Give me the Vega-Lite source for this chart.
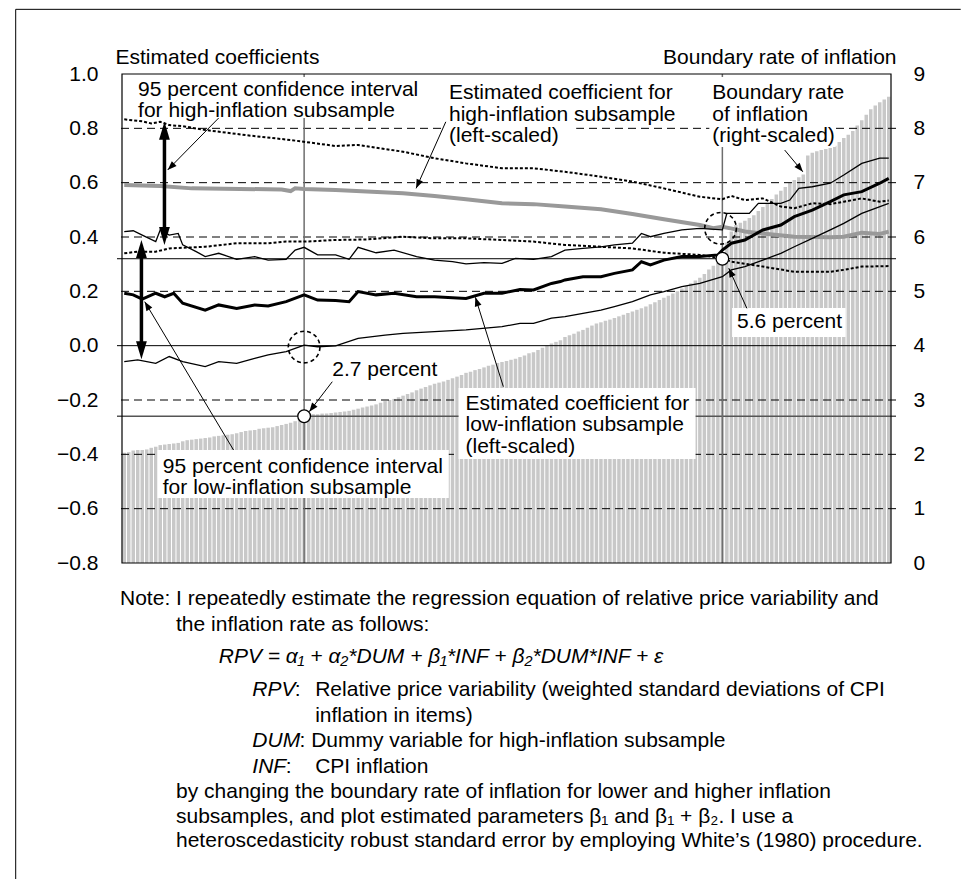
{
"$schema":"https://vega.github.io/schema/vega-lite/v6.json",
"width":779,"height":489,"autosize":"none",
"padding":{"left":117,"top":74,"right":68,"bottom":316},
"background":"#ffffff",
"config":{"view":{"stroke":null},"axisX":{"disable":true},"text":{"font":"Liberation Sans","fontSize":21,"color":"#000"}},
"datasets":{
"bars":[
{"i":0,"r":2.03},{"i":1,"r":2.04},{"i":2,"r":2.07},{"i":3,"r":2.08},{"i":4,"r":2.08},{"i":5,"r":2.09},{"i":6,"r":2.12},
{"i":7,"r":2.14},{"i":8,"r":2.17},{"i":9,"r":2.18},{"i":10,"r":2.19},{"i":11,"r":2.2},{"i":12,"r":2.21},{"i":13,"r":2.24},
{"i":14,"r":2.26},{"i":15,"r":2.27},{"i":16,"r":2.28},{"i":17,"r":2.29},{"i":18,"r":2.3},{"i":19,"r":2.31},{"i":20,"r":2.33},
{"i":21,"r":2.34},{"i":22,"r":2.35},{"i":23,"r":2.36},{"i":24,"r":2.37},{"i":25,"r":2.39},{"i":26,"r":2.41},{"i":27,"r":2.43},
{"i":28,"r":2.44},{"i":29,"r":2.45},{"i":30,"r":2.47},{"i":31,"r":2.48},{"i":32,"r":2.49},{"i":33,"r":2.5},{"i":34,"r":2.52},
{"i":35,"r":2.54},{"i":36,"r":2.56},{"i":37,"r":2.58},{"i":38,"r":2.61},{"i":39,"r":2.65},{"i":40,"r":2.7},{"i":41,"r":2.73},
{"i":42,"r":2.74},{"i":43,"r":2.74},{"i":44,"r":2.75},{"i":45,"r":2.75},{"i":46,"r":2.76},{"i":47,"r":2.77},{"i":48,"r":2.78},
{"i":49,"r":2.79},{"i":50,"r":2.8},{"i":51,"r":2.82},{"i":52,"r":2.84},{"i":53,"r":2.86},{"i":54,"r":2.88},{"i":55,"r":2.9},
{"i":56,"r":2.92},{"i":57,"r":2.95},{"i":58,"r":2.98},{"i":59,"r":3.0},{"i":60,"r":3.02},{"i":61,"r":3.05},{"i":62,"r":3.08},
{"i":63,"r":3.11},{"i":64,"r":3.14},{"i":65,"r":3.18},{"i":66,"r":3.21},{"i":67,"r":3.24},{"i":68,"r":3.27},{"i":69,"r":3.3},
{"i":70,"r":3.32},{"i":71,"r":3.34},{"i":72,"r":3.37},{"i":73,"r":3.4},{"i":74,"r":3.43},{"i":75,"r":3.46},{"i":76,"r":3.5},
{"i":77,"r":3.52},{"i":78,"r":3.55},{"i":79,"r":3.57},{"i":80,"r":3.6},{"i":81,"r":3.63},{"i":82,"r":3.65},{"i":83,"r":3.68},
{"i":84,"r":3.7},{"i":85,"r":3.72},{"i":86,"r":3.74},{"i":87,"r":3.76},{"i":88,"r":3.79},{"i":89,"r":3.82},{"i":90,"r":3.86},
{"i":91,"r":3.88},{"i":92,"r":3.92},{"i":93,"r":3.96},{"i":94,"r":4.0},{"i":95,"r":4.04},{"i":96,"r":4.07},{"i":97,"r":4.1},
{"i":98,"r":4.16},{"i":99,"r":4.19},{"i":100,"r":4.22},{"i":101,"r":4.26},{"i":102,"r":4.29},{"i":103,"r":4.33},{"i":104,"r":4.37},
{"i":105,"r":4.41},{"i":106,"r":4.43},{"i":107,"r":4.46},{"i":108,"r":4.48},{"i":109,"r":4.51},{"i":110,"r":4.54},{"i":111,"r":4.57},
{"i":112,"r":4.6},{"i":113,"r":4.63},{"i":114,"r":4.66},{"i":115,"r":4.69},{"i":116,"r":4.72},{"i":117,"r":4.76},{"i":118,"r":4.8},
{"i":119,"r":4.84},{"i":120,"r":4.88},{"i":121,"r":4.92},{"i":122,"r":4.96},{"i":123,"r":5.0},{"i":124,"r":5.05},{"i":125,"r":5.1},
{"i":126,"r":5.15},{"i":127,"r":5.2},{"i":128,"r":5.25},{"i":129,"r":5.32},{"i":130,"r":5.4},{"i":131,"r":5.47},{"i":132,"r":5.53},
{"i":133,"r":5.6},
{"i":134,"r":5.9},{"i":135,"r":6.1},{"i":136,"r":6.22},{"i":137,"r":6.26},{"i":138,"r":6.3},{"i":139,"r":6.35},{"i":140,"r":6.4},
{"i":141,"r":6.48},{"i":142,"r":6.55},{"i":143,"r":6.62},{"i":144,"r":6.7},{"i":145,"r":6.78},{"i":146,"r":6.85},{"i":147,"r":6.92},
{"i":148,"r":7.0},{"i":149,"r":7.05},{"i":150,"r":7.1},{"i":151,"r":7.15},{"i":152,"r":7.5},{"i":153,"r":7.55},{"i":154,"r":7.58},
{"i":155,"r":7.6},{"i":156,"r":7.62},{"i":157,"r":7.64},{"i":158,"r":7.68},{"i":159,"r":7.75},{"i":160,"r":7.82},{"i":161,"r":7.88},
{"i":162,"r":7.95},{"i":163,"r":8.05},{"i":164,"r":8.15},{"i":165,"r":8.25},{"i":166,"r":8.35},{"i":167,"r":8.42},{"i":168,"r":8.48},
{"i":169,"r":8.53},{"i":170,"r":8.58}
],
"coef":[
{"s":"HU","i":0,"v":0.833},{"s":"HU","i":4,"v":0.826},{"s":"HU","i":6,"v":0.818},{"s":"HU","i":8,"v":0.824},{"s":"HU","i":10,"v":0.812},{"s":"HU","i":13,"v":0.808},{"s":"HU","i":18,"v":0.794},{"s":"HU","i":27,"v":0.775},{"s":"HU","i":37,"v":0.757},{"s":"HU","i":47,"v":0.735},{"s":"HU","i":52,"v":0.739},{"s":"HU","i":62,"v":0.714},{"s":"HU","i":69,"v":0.69},{"s":"HU","i":76,"v":0.671},{"s":"HU","i":84,"v":0.653},{"s":"HU","i":91,"v":0.653},{"s":"HU","i":98,"v":0.64},{"s":"HU","i":106,"v":0.622},{"s":"HU","i":113,"v":0.604},{"s":"HU","i":120,"v":0.579},{"s":"HU","i":128,"v":0.548},{"s":"HU","i":133,"v":0.539},{"s":"HU","i":135,"v":0.551},{"s":"HU","i":138,"v":0.536},{"s":"HU","i":142,"v":0.542},{"s":"HU","i":146,"v":0.512},{"s":"HU","i":149,"v":0.506},{"s":"HU","i":153,"v":0.524},{"s":"HU","i":157,"v":0.521},{"s":"HU","i":160,"v":0.53},{"s":"HU","i":164,"v":0.542},{"s":"HU","i":168,"v":0.53},{"s":"HU","i":170,"v":0.534},
{"s":"HC","i":0,"v":0.591},{"s":"HC","i":8,"v":0.588},{"s":"HC","i":15,"v":0.579},{"s":"HC","i":35,"v":0.575},{"s":"HC","i":37,"v":0.569},{"s":"HC","i":38,"v":0.579},{"s":"HC","i":40,"v":0.577},{"s":"HC","i":47,"v":0.573},{"s":"HC","i":62,"v":0.561},{"s":"HC","i":69,"v":0.551},{"s":"HC","i":76,"v":0.539},{"s":"HC","i":84,"v":0.524},{"s":"HC","i":91,"v":0.521},{"s":"HC","i":98,"v":0.512},{"s":"HC","i":106,"v":0.502},{"s":"HC","i":113,"v":0.485},{"s":"HC","i":120,"v":0.465},{"s":"HC","i":128,"v":0.444},{"s":"HC","i":131,"v":0.432},{"s":"HC","i":133,"v":0.438},{"s":"HC","i":136,"v":0.428},{"s":"HC","i":138,"v":0.42},{"s":"HC","i":142,"v":0.413},{"s":"HC","i":149,"v":0.401},{"s":"HC","i":157,"v":0.399},{"s":"HC","i":160,"v":0.401},{"s":"HC","i":164,"v":0.416},{"s":"HC","i":168,"v":0.411},{"s":"HC","i":170,"v":0.42},
{"s":"LU","i":0,"v":0.42},{"s":"LU","i":2,"v":0.423},{"s":"LU","i":4,"v":0.407},{"s":"LU","i":7,"v":0.383},{"s":"LU","i":8,"v":0.426},{"s":"LU","i":10,"v":0.407},{"s":"LU","i":12,"v":0.413},{"s":"LU","i":13,"v":0.371},{"s":"LU","i":16,"v":0.346},{"s":"LU","i":18,"v":0.328},{"s":"LU","i":21,"v":0.34},{"s":"LU","i":25,"v":0.318},{"s":"LU","i":29,"v":0.328},{"s":"LU","i":32,"v":0.315},{"s":"LU","i":36,"v":0.318},{"s":"LU","i":38,"v":0.352},{"s":"LU","i":40,"v":0.362},{"s":"LU","i":43,"v":0.334},{"s":"LU","i":47,"v":0.334},{"s":"LU","i":50,"v":0.318},{"s":"LU","i":52,"v":0.362},{"s":"LU","i":56,"v":0.342},{"s":"LU","i":60,"v":0.352},{"s":"LU","i":65,"v":0.328},{"s":"LU","i":69,"v":0.315},{"s":"LU","i":73,"v":0.309},{"s":"LU","i":76,"v":0.301},{"s":"LU","i":80,"v":0.306},{"s":"LU","i":84,"v":0.303},{"s":"LU","i":87,"v":0.321},{"s":"LU","i":91,"v":0.318},{"s":"LU","i":95,"v":0.328},{"s":"LU","i":98,"v":0.352},{"s":"LU","i":102,"v":0.358},{"s":"LU","i":106,"v":0.364},{"s":"LU","i":109,"v":0.371},{"s":"LU","i":113,"v":0.377},{"s":"LU","i":115,"v":0.413},{"s":"LU","i":117,"v":0.401},{"s":"LU","i":120,"v":0.413},{"s":"LU","i":124,"v":0.426},{"s":"LU","i":128,"v":0.432},{"s":"LU","i":133,"v":0.426},{"s":"LU","i":134,"v":0.487},{"s":"LU","i":139,"v":0.487},{"s":"LU","i":141,"v":0.524},{"s":"LU","i":146,"v":0.524},{"s":"LU","i":148,"v":0.536},{"s":"LU","i":150,"v":0.579},{"s":"LU","i":153,"v":0.585},{"s":"LU","i":157,"v":0.598},{"s":"LU","i":160,"v":0.628},{"s":"LU","i":164,"v":0.671},{"s":"LU","i":168,"v":0.69},{"s":"LU","i":170,"v":0.69},
{"s":"HL","i":0,"v":0.34},{"s":"HL","i":3,"v":0.346},{"s":"HL","i":7,"v":0.346},{"s":"HL","i":10,"v":0.358},{"s":"HL","i":18,"v":0.364},{"s":"HL","i":25,"v":0.377},{"s":"HL","i":32,"v":0.377},{"s":"HL","i":36,"v":0.383},{"s":"HL","i":40,"v":0.383},{"s":"HL","i":47,"v":0.389},{"s":"HL","i":54,"v":0.391},{"s":"HL","i":62,"v":0.401},{"s":"HL","i":69,"v":0.395},{"s":"HL","i":76,"v":0.395},{"s":"HL","i":84,"v":0.389},{"s":"HL","i":91,"v":0.383},{"s":"HL","i":98,"v":0.371},{"s":"HL","i":106,"v":0.364},{"s":"HL","i":113,"v":0.358},{"s":"HL","i":120,"v":0.342},{"s":"HL","i":128,"v":0.334},{"s":"HL","i":133,"v":0.321},{"s":"HL","i":135,"v":0.309},{"s":"HL","i":142,"v":0.291},{"s":"HL","i":149,"v":0.272},{"s":"HL","i":157,"v":0.272},{"s":"HL","i":160,"v":0.279},{"s":"HL","i":164,"v":0.291},{"s":"HL","i":170,"v":0.293},
{"s":"LC","i":0,"v":0.193},{"s":"LC","i":2,"v":0.187},{"s":"LC","i":4,"v":0.171},{"s":"LC","i":7,"v":0.193},{"s":"LC","i":9,"v":0.18},{"s":"LC","i":11,"v":0.193},{"s":"LC","i":13,"v":0.156},{"s":"LC","i":18,"v":0.131},{"s":"LC","i":21,"v":0.15},{"s":"LC","i":25,"v":0.137},{"s":"LC","i":29,"v":0.15},{"s":"LC","i":32,"v":0.146},{"s":"LC","i":36,"v":0.162},{"s":"LC","i":40,"v":0.187},{"s":"LC","i":43,"v":0.168},{"s":"LC","i":47,"v":0.166},{"s":"LC","i":50,"v":0.162},{"s":"LC","i":52,"v":0.199},{"s":"LC","i":56,"v":0.187},{"s":"LC","i":60,"v":0.193},{"s":"LC","i":65,"v":0.18},{"s":"LC","i":69,"v":0.18},{"s":"LC","i":76,"v":0.174},{"s":"LC","i":80,"v":0.193},{"s":"LC","i":84,"v":0.193},{"s":"LC","i":88,"v":0.207},{"s":"LC","i":91,"v":0.205},{"s":"LC","i":95,"v":0.229},{"s":"LC","i":97,"v":0.236},{"s":"LC","i":98,"v":0.242},{"s":"LC","i":102,"v":0.254},{"s":"LC","i":106,"v":0.254},{"s":"LC","i":109,"v":0.266},{"s":"LC","i":113,"v":0.279},{"s":"LC","i":115,"v":0.309},{"s":"LC","i":117,"v":0.297},{"s":"LC","i":120,"v":0.315},{"s":"LC","i":124,"v":0.328},{"s":"LC","i":128,"v":0.328},{"s":"LC","i":132,"v":0.334},{"s":"LC","i":133,"v":0.352},{"s":"LC","i":135,"v":0.377},{"s":"LC","i":138,"v":0.389},{"s":"LC","i":142,"v":0.426},{"s":"LC","i":146,"v":0.444},{"s":"LC","i":149,"v":0.475},{"s":"LC","i":153,"v":0.499},{"s":"LC","i":157,"v":0.53},{"s":"LC","i":160,"v":0.555},{"s":"LC","i":164,"v":0.567},{"s":"LC","i":168,"v":0.598},{"s":"LC","i":170,"v":0.616},
{"s":"LL","i":0,"v":-0.059},{"s":"LL","i":3,"v":-0.052},{"s":"LL","i":7,"v":-0.065},{"s":"LL","i":10,"v":-0.04},{"s":"LL","i":13,"v":-0.059},{"s":"LL","i":18,"v":-0.077},{"s":"LL","i":21,"v":-0.059},{"s":"LL","i":25,"v":-0.065},{"s":"LL","i":29,"v":-0.047},{"s":"LL","i":32,"v":-0.034},{"s":"LL","i":36,"v":-0.022},{"s":"LL","i":38,"v":-0.01},{"s":"LL","i":40,"v":0.002},{"s":"LL","i":43,"v":-0.004},{"s":"LL","i":47,"v":-0.001},{"s":"LL","i":52,"v":0.027},{"s":"LL","i":58,"v":0.039},{"s":"LL","i":62,"v":0.045},{"s":"LL","i":69,"v":0.052},{"s":"LL","i":76,"v":0.058},{"s":"LL","i":84,"v":0.07},{"s":"LL","i":88,"v":0.082},{"s":"LL","i":91,"v":0.082},{"s":"LL","i":95,"v":0.101},{"s":"LL","i":98,"v":0.107},{"s":"LL","i":102,"v":0.119},{"s":"LL","i":106,"v":0.131},{"s":"LL","i":109,"v":0.144},{"s":"LL","i":113,"v":0.162},{"s":"LL","i":117,"v":0.187},{"s":"LL","i":120,"v":0.199},{"s":"LL","i":124,"v":0.217},{"s":"LL","i":128,"v":0.229},{"s":"LL","i":133,"v":0.254},{"s":"LL","i":135,"v":0.279},{"s":"LL","i":138,"v":0.291},{"s":"LL","i":142,"v":0.315},{"s":"LL","i":146,"v":0.34},{"s":"LL","i":149,"v":0.364},{"s":"LL","i":153,"v":0.395},{"s":"LL","i":157,"v":0.426},{"s":"LL","i":160,"v":0.45},{"s":"LL","i":164,"v":0.487},{"s":"LL","i":170,"v":0.524}
],
"grid":[{"g":0.8},{"g":0.6},{"g":0.4},{"g":0.2},{"g":-0.2},{"g":-0.4},{"g":-0.6}],
"boxes":[
{"x1":1.91,"x2":67.11,"y1":0.989,"y2":0.838},
{"x1":71.5,"x2":100.5,"y1":0.816,"y2":0.728},
{"x1":130.1,"x2":158.2,"y1":0.989,"y2":0.731},
{"x1":135.16,"x2":160.4,"y1":0.139,"y2":0.032},
{"x1":45.6,"x2":69.96,"y1":-0.045,"y2":-0.13},
{"x1":74.35,"x2":127.04,"y1":-0.156,"y2":-0.417},
{"x1":7.4,"x2":72.16,"y1":-0.384,"y2":-0.561}
],
"ann":[
{"i":3.08,"v":0.919,"t":["95 percent confidence interval","for high-inflation subsample"]},
{"i":72.22,"v":0.907,"t":["Estimated coefficient for","high-inflation subsample","(left-scaled)"]},
{"i":130.77,"v":0.907,"t":["Boundary rate","of inflation","(right-scaled)"]},
{"i":136.26,"v":0.064,"t":["5.6 percent"]},
{"i":46.26,"v":-0.112,"t":["2.7 percent"]},
{"i":75.89,"v":-0.237,"t":["Estimated coefficient for","low-inflation subsample","(left-scaled)"]},
{"i":8.57,"v":-0.468,"t":["95 percent confidence interval","for low-inflation subsample"]}
],
"note":[
{"i":-0.94,"v":-0.9546,"t":"Note: I repeatedly estimate the regression equation of relative price variability and"},
{"i":11.51,"v":-1.0492,"t":"the inflation rate as follows:"},
{"i":37.91,"v":-1.2895,"t":":"},
{"i":42.46,"v":-1.2895,"t":"Relative price variability (weighted standard deviations of CPI"},
{"i":42.46,"v":-1.3842,"t":"inflation in items)"},
{"i":38.97,"v":-1.4762,"t":": Dummy variable for high-inflation subsample"},
{"i":35.9,"v":-1.5719,"t":":"},
{"i":42.46,"v":-1.5719,"t":"CPI inflation"},
{"i":11.51,"v":-1.665,"t":"by changing the boundary rate of inflation for lower and higher inflation"},
{"i":11.51,"v":-1.7559,"t":"subsamples, and plot estimated parameters β₁ and β₁ + β₂. I use a"},
{"i":11.51,"v":-1.8443,"t":"heteroscedasticity robust standard error by employing White’s (1980) procedure."}
],
"noteit":[
{"i":21.01,"v":-1.1681,"t":"RPV = α₁ + α₂*DUM + β₁*INF + β₂*DUM*INF + ε"},
{"i":28.48,"v":-1.2895,"t":"RPV"},
{"i":28.48,"v":-1.4762,"t":"DUM"},
{"i":28.48,"v":-1.5719,"t":"INF"}
],
"darr":[{"i":8.94,"s1":0.795,"s2":0.4},{"i":3.82,"s1":0.36,"s2":-0.021}],
"dheads":[{"i":8.94,"v":0.8245,"a":0},{"i":8.94,"v":0.3706,"a":180},{"i":3.82,"v":0.389,"a":0},{"i":3.82,"v":-0.05,"a":180}],
"leaders":[
{"x1":21.0,"y1":0.838,"x2":9.66,"y2":0.647,"a":-134},
{"x1":71.5,"y1":0.824,"x2":64.9,"y2":0.579,"a":-156},
{"x1":146.86,"y1":0.72,"x2":150.9,"y2":0.64,"a":140},
{"x1":138.45,"y1":0.1375,"x2":134.43,"y2":0.285,"a":-25},
{"x1":46.26,"y1":-0.1326,"x2":41.14,"y2":-0.243,"a":-142},
{"x1":84.3,"y1":-0.151,"x2":78.08,"y2":0.178,"a":-18},
{"x1":24.3,"y1":-0.384,"x2":4.55,"y2":0.162,"a":-31}
],
"dcirc":[{"i":40,"v":-0.005},{"i":132.6,"v":0.432}],
"opts":[{"i":40,"v":-0.26},{"i":133,"v":0.32}]
},
"layer":[
{"data":{"name":"bars"},
 "mark":{"type":"bar","orient":"vertical","width":3.5,"color":"#c8c8c8"},
 "encoding":{
  "x":{"field":"i","type":"quantitative","scale":{"domain":[-0.5,170.5],"nice":false,"zero":false},"axis":null},
  "y":{"field":"r","type":"quantitative","scale":{"domain":[0,9],"nice":false},
   "axis":{"orient":"right","values":[0,1,2,3,4,5,6,7,8,9],"format":"d","domain":false,"ticks":false,"tickSize":0,"grid":false,"labelPadding":17,"labelFont":"Liberation Sans","labelFontSize":21,"labelColor":"#000","labelBaseline":"middle","labelOverlap":false,"labelFlush":false,"title":"Boundary rate of inflation","titleAngle":0,"titleAlign":"right","titleBaseline":"alphabetic","titleX":0,"titleY":-11,"titleFont":"Liberation Sans","titleFontSize":21,"titleFontWeight":"normal","titleColor":"#000"}}}},
 {"data":{"name":"grid"},
  "mark":{"type":"rule","color":"#000","strokeWidth":1,"strokeDash":[8,5]},
  "encoding":{"y":{"field":"g","type":"quantitative","scale":{"domain":[-0.8,1.0],"nice":false,"zero":false},
   "axis":{"orient":"left","values":[-0.8,-0.6,-0.4,-0.2,0,0.2,0.4,0.6,0.8,1],"format":".1f","domain":false,"ticks":false,"tickSize":0,"grid":false,"labelPadding":19,"labelFont":"Liberation Sans","labelFontSize":21,"labelColor":"#000","labelBaseline":"middle","labelOverlap":false,"labelFlush":false,"title":"Estimated coefficients","titleAngle":0,"titleAlign":"left","titleBaseline":"alphabetic","titleX":-2,"titleY":-11,"titleFont":"Liberation Sans","titleFontSize":21,"titleFontWeight":"normal","titleColor":"#000"}}}},
 {"data":{"values":[{}]},"mark":{"type":"rule","color":"#000","strokeWidth":1},
  "encoding":{"y":{"datum":0,"type":"quantitative","scale":{"domain":[-0.8,1.0],"nice":false,"zero":false},"axis":null}}},
 {"data":{"values":[{}]},"mark":{"type":"rule","color":"#555555","strokeWidth":1.5},
  "encoding":{"y":{"datum":-0.26,"type":"quantitative","scale":{"domain":[-0.8,1.0],"nice":false,"zero":false},"axis":null}}},
 {"data":{"values":[{}]},"mark":{"type":"rule","color":"#000","strokeWidth":1},
  "encoding":{"y":{"datum":0.32,"type":"quantitative","scale":{"domain":[-0.8,1.0],"nice":false,"zero":false},"axis":null}}},
 {"data":{"values":[{}]},"mark":{"type":"rule","color":"#6e6e6e","strokeWidth":1.5},
  "encoding":{"x":{"datum":40,"type":"quantitative","scale":{"domain":[-0.5,170.5],"nice":false,"zero":false},"axis":null}}},
 {"data":{"values":[{}]},"mark":{"type":"rule","color":"#6e6e6e","strokeWidth":1.5},
  "encoding":{"x":{"datum":133,"type":"quantitative","scale":{"domain":[-0.5,170.5],"nice":false,"zero":false},"axis":null}}},
 {"data":{"name":"boxes"},"mark":{"type":"rect","color":"#ffffff"},
  "encoding":{
   "x":{"field":"x1","type":"quantitative","scale":{"domain":[-0.5,170.5],"nice":false,"zero":false},"axis":null},"x2":{"field":"x2"},
   "y":{"field":"y1","type":"quantitative","scale":{"domain":[-0.8,1.0],"nice":false,"zero":false},"axis":null},"y2":{"field":"y2"}}},
 {"data":{"name":"ann"},"mark":{"type":"text","align":"left","baseline":"alphabetic","lineHeight":21.3,"font":"Liberation Sans","fontSize":21,"color":"#000"},
  "encoding":{
   "x":{"field":"i","type":"quantitative","scale":{"domain":[-0.5,170.5],"nice":false,"zero":false},"axis":null},
   "y":{"field":"v","type":"quantitative","scale":{"domain":[-0.8,1.0],"nice":false,"zero":false},"axis":null},
   "text":{"field":"t"}}},
 {"data":{"name":"note"},"mark":{"type":"text","align":"left","baseline":"alphabetic","font":"Liberation Sans","fontSize":21,"color":"#000"},
  "encoding":{
   "x":{"field":"i","type":"quantitative","scale":{"domain":[-0.5,170.5],"nice":false,"zero":false},"axis":null},
   "y":{"field":"v","type":"quantitative","scale":{"domain":[-0.8,1.0],"nice":false,"zero":false},"axis":null},
   "text":{"field":"t"}}},
 {"data":{"name":"noteit"},"mark":{"type":"text","align":"left","baseline":"alphabetic","font":"Liberation Sans","fontSize":21,"fontStyle":"italic","color":"#000"},
  "encoding":{
   "x":{"field":"i","type":"quantitative","scale":{"domain":[-0.5,170.5],"nice":false,"zero":false},"axis":null},
   "y":{"field":"v","type":"quantitative","scale":{"domain":[-0.8,1.0],"nice":false,"zero":false},"axis":null},
   "text":{"field":"t"}}},
 {"data":{"name":"coef"},"transform":[{"filter":"datum.s == 'HC'"}],
  "mark":{"type":"line","color":"#999999","strokeWidth":4},
  "encoding":{
   "x":{"field":"i","type":"quantitative","scale":{"domain":[-0.5,170.5],"nice":false,"zero":false},"axis":null},
   "y":{"field":"v","type":"quantitative","scale":{"domain":[-0.8,1.0],"nice":false,"zero":false},"axis":null}}},
 {"data":{"name":"coef"},"transform":[{"filter":"datum.s == 'HU' || datum.s == 'HL'"}],
  "mark":{"type":"line","color":"#000","strokeWidth":2,"strokeDash":[3,2]},
  "encoding":{
   "x":{"field":"i","type":"quantitative","scale":{"domain":[-0.5,170.5],"nice":false,"zero":false},"axis":null},
   "y":{"field":"v","type":"quantitative","scale":{"domain":[-0.8,1.0],"nice":false,"zero":false},"axis":null},
   "detail":{"field":"s"}}},
 {"data":{"name":"coef"},"transform":[{"filter":"datum.s == 'LU' || datum.s == 'LL'"}],
  "mark":{"type":"line","color":"#000","strokeWidth":1.3},
  "encoding":{
   "x":{"field":"i","type":"quantitative","scale":{"domain":[-0.5,170.5],"nice":false,"zero":false},"axis":null},
   "y":{"field":"v","type":"quantitative","scale":{"domain":[-0.8,1.0],"nice":false,"zero":false},"axis":null},
   "detail":{"field":"s"}}},
 {"data":{"name":"coef"},"transform":[{"filter":"datum.s == 'LC'"}],
  "mark":{"type":"line","color":"#000","strokeWidth":3},
  "encoding":{
   "x":{"field":"i","type":"quantitative","scale":{"domain":[-0.5,170.5],"nice":false,"zero":false},"axis":null},
   "y":{"field":"v","type":"quantitative","scale":{"domain":[-0.8,1.0],"nice":false,"zero":false},"axis":null}}},
 {"data":{"name":"darr"},"mark":{"type":"rule","color":"#000","strokeWidth":3.5},
  "encoding":{
   "x":{"field":"i","type":"quantitative","scale":{"domain":[-0.5,170.5],"nice":false,"zero":false},"axis":null},
   "y":{"field":"s1","type":"quantitative","scale":{"domain":[-0.8,1.0],"nice":false,"zero":false},"axis":null},"y2":{"field":"s2"}}},
 {"data":{"name":"dheads"},"mark":{"type":"point","shape":"M0,0L0.3,1L-0.3,1Z","size":1296,"filled":true,"color":"#000","opacity":1,"strokeWidth":0},
  "encoding":{
   "x":{"field":"i","type":"quantitative","scale":{"domain":[-0.5,170.5],"nice":false,"zero":false},"axis":null},
   "y":{"field":"v","type":"quantitative","scale":{"domain":[-0.8,1.0],"nice":false,"zero":false},"axis":null},
   "angle":{"field":"a","type":"quantitative","scale":null}}},
 {"data":{"name":"leaders"},"mark":{"type":"rule","color":"#000","strokeWidth":1},
  "encoding":{
   "x":{"field":"x1","type":"quantitative","scale":{"domain":[-0.5,170.5],"nice":false,"zero":false},"axis":null},"x2":{"field":"x2"},
   "y":{"field":"y1","type":"quantitative","scale":{"domain":[-0.8,1.0],"nice":false,"zero":false},"axis":null},"y2":{"field":"y2"}}},
 {"data":{"name":"leaders"},"mark":{"type":"point","shape":"M0,0L0.38,1L-0.38,1Z","size":324,"filled":true,"color":"#000","opacity":1,"strokeWidth":0},
  "encoding":{
   "x":{"field":"x2","type":"quantitative","scale":{"domain":[-0.5,170.5],"nice":false,"zero":false},"axis":null},
   "y":{"field":"y2","type":"quantitative","scale":{"domain":[-0.8,1.0],"nice":false,"zero":false},"axis":null},
   "angle":{"field":"a","type":"quantitative","scale":null}}},
 {"data":{"name":"dcirc"},"mark":{"type":"point","shape":"circle","size":1000,"filled":false,"color":"#000","opacity":1,"strokeWidth":1.6,"strokeDash":[4,3]},
  "encoding":{
   "x":{"field":"i","type":"quantitative","scale":{"domain":[-0.5,170.5],"nice":false,"zero":false},"axis":null},
   "y":{"field":"v","type":"quantitative","scale":{"domain":[-0.8,1.0],"nice":false,"zero":false},"axis":null}}},
 {"data":{"name":"opts"},"mark":{"type":"point","shape":"circle","size":160,"filled":true,"fill":"#ffffff","stroke":"#000","strokeWidth":1.3,"opacity":1},
  "encoding":{
   "x":{"field":"i","type":"quantitative","scale":{"domain":[-0.5,170.5],"nice":false,"zero":false},"axis":null},
   "y":{"field":"v","type":"quantitative","scale":{"domain":[-0.8,1.0],"nice":false,"zero":false},"axis":null}}},
 {"data":{"values":[{}]},"mark":{"type":"rect","filled":false,"color":"#000","strokeWidth":1.2},
  "encoding":{
   "x":{"datum":-0.5,"type":"quantitative","scale":{"domain":[-0.5,170.5],"nice":false,"zero":false},"axis":null},"x2":{"datum":170.5},
   "y":{"datum":1.0,"type":"quantitative","scale":{"domain":[-0.8,1.0],"nice":false,"zero":false},"axis":null},"y2":{"datum":-0.8}}},
 {"data":{"values":[{}]},"mark":{"type":"rule","color":"#000","strokeWidth":1},
  "encoding":{
   "x":{"datum":-24.14,"type":"quantitative","scale":{"domain":[-0.5,170.5],"nice":false,"zero":false},"axis":null},
   "y":{"datum":1.238,"type":"quantitative","scale":{"domain":[-0.8,1.0],"nice":false,"zero":false},"axis":null},"y2":{"datum":-1.97}}},
 {"data":{"values":[{}]},"mark":{"type":"rule","color":"#000","strokeWidth":1},
  "encoding":{
   "x":{"datum":-24.14,"type":"quantitative","scale":{"domain":[-0.5,170.5],"nice":false,"zero":false},"axis":null},"x2":{"datum":186},
   "y":{"datum":1.238,"type":"quantitative","scale":{"domain":[-0.8,1.0],"nice":false,"zero":false},"axis":null}}}
],
"resolve":{"scale":{"y":"independent"}}
}
